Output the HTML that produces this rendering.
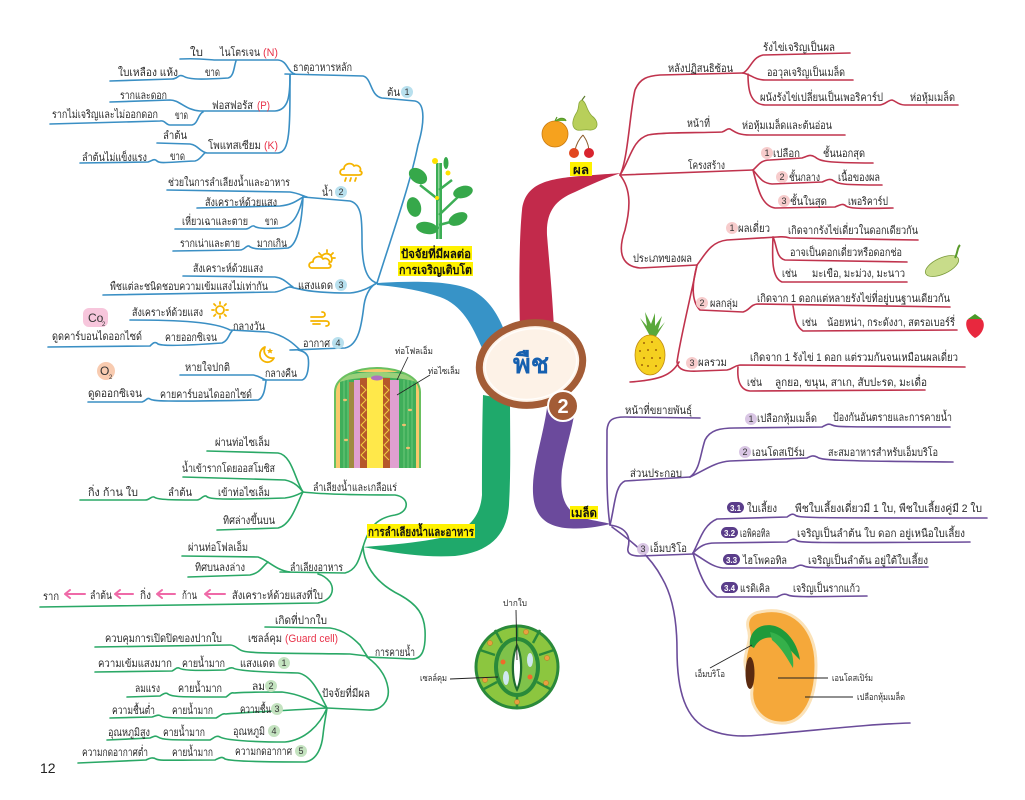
<!DOCTYPE html>
<html><head><meta charset="utf-8"><style>
html,body{margin:0;padding:0;background:#fff;}
svg{display:block;}
.t{font-family:"Liberation Sans","DejaVu Sans",sans-serif;font-size:11px;fill:#2a2a2a;}
.s{font-size:9px;}
.r{fill:#e8334a;}
.b{font-weight:bold;fill:#111;font-size:12px;}
.bl{fill:none;stroke:#3a8fc4;stroke-width:1.6;stroke-linecap:round;}
.gl{fill:none;stroke:#2aa866;stroke-width:1.6;stroke-linecap:round;}
.rl{fill:none;stroke:#c0334d;stroke-width:1.6;stroke-linecap:round;}
.pl{fill:none;stroke:#6b4c9a;stroke-width:1.6;stroke-linecap:round;}
.bn{font-family:"Liberation Sans",sans-serif;font-size:9px;fill:#333;text-anchor:middle;}
.wn{font-family:"Liberation Sans",sans-serif;font-size:8px;fill:#fff;text-anchor:middle;font-weight:bold;}
.ic{fill:none;stroke:#f5b400;stroke-width:1.8;stroke-linecap:round;stroke-linejoin:round;}
</style></head><body>
<svg width="1025" height="800" viewBox="0 0 1025 800" xmlns="http://www.w3.org/2000/svg">
<rect width="1025" height="800" fill="#fff"/>

<!-- thick branches -->
<path d="M377,283 C410,281 450,280 472,290 C490,300 498,315 505,332 L482,348 C472,325 462,305 440,297 C420,290 400,287 377,285 Z" fill="#3793c7"/>
<path d="M520,330 C519,290 519,240 522,210 C525,185 545,180 570,177 C590,175 610,174 621,173 C605,178 590,185 575,192 C555,200 546,212 547,235 C549,260 552,290 554,328 Z" fill="#c22a4b"/>
<path d="M483,395 C482,430 482,470 482,495 C480,520 465,532 440,538 C415,543 390,545 363,547 C390,552 420,558 455,556 C490,552 507,535 509,505 C511,470 510,430 510,400 Z" fill="#1fa96b"/>
<path d="M548,400 C545,430 534,460 533,485 C532,510 540,525 565,528 C585,530 600,526 611,524 C595,520 585,520 575,514 C562,505 560,490 562,470 C565,450 572,430 575,410 Z" fill="#6b4a9c"/>

<!-- BLUE lines -->
<path class="bl" d="M285,74 L363,76 C372,78 370,96 382,98 L415,101 C426,103 424,125 418,145 C410,185 392,235 377,283"/>
<path class="bl" d="M180,59 C200,58 210,60 215,60 L278,60 C288,61 287,72 295,74"/>
<path class="bl" d="M110,81 L172,79 C178,79 178,74 183,76 C188,79 195,80 228,78 C234,77 234,66 236,61"/>
<path class="bl" d="M110,102 L170,100 C180,100 185,110 200,111 L275,111 C289,110 290,95 290,75"/>
<path class="bl" d="M50,124 L160,121 C165,120 166,125 170,125 L192,125 C198,124 198,114 203,112"/>
<path class="bl" d="M157,143 L190,144 C198,145 200,152 207,153 L278,153 C290,152 290,130 290,75"/>
<path class="bl" d="M80,163 L148,162 C152,161 154,158 157,161 C160,164 170,162 195,161 C200,160 202,155 205,153"/>
<path class="bl" d="M167,190 L290,192 C298,193 303,196 307,197"/>
<path class="bl" d="M303,197 L350,201 C362,204 362,220 362,240 C362,265 366,280 377,283"/>
<path class="bl" d="M197,208 L280,206 C292,205 298,200 303,197"/>
<path class="bl" d="M175,229 L246,229 C250,229 251,225 254,226 C257,228 262,229 280,228 C295,226 300,210 303,197"/>
<path class="bl" d="M173,251 L240,250 C245,250 246,245 249,246 C252,249 258,250 288,248 C298,245 302,220 303,197"/>
<path class="bl" d="M183,276 L275,277 C284,278 288,284 293,287"/>
<path class="bl" d="M103,295 L275,292 C283,291 286,287 290,287"/>
<path class="bl" d="M290,287 C300,289 310,293 350,293 C362,292 370,287 377,283"/>
<path class="bl" d="M130,320 C180,320 215,322 230,330 L268,332 C285,335 295,345 300,350"/>
<path class="bl" d="M48,347 L150,346 C153,343 155,341 158,344 C162,346 180,346 222,343 C228,341 229,334 232,331"/>
<path class="bl" d="M290,350 C300,350 310,349 345,348 C360,345 362,320 364,305 C366,292 372,285 377,283"/>
<path class="bl" d="M180,375 L253,375 C260,376 262,379 266,380"/>
<path class="bl" d="M263,380 L302,380 C309,378 309,362 308,357 C306,352 302,351 298,350"/>
<path class="bl" d="M88,402 L142,402 C146,401 147,397 150,399 C153,401 160,402 258,400 C264,398 265,388 266,381"/>

<!-- GREEN lines -->
<path class="gl" d="M207,451 L278,453 C292,455 295,480 303,492"/>
<path class="gl" d="M183,477 L285,480 C295,482 300,488 303,492"/>
<path class="gl" d="M80,500 L145,500 C150,500 151,496 154,497 C157,499 160,500 197,500 C201,500 203,495 206,496 C209,499 215,500 285,498 C294,497 299,494 303,492"/>
<path class="gl" d="M217,530 L278,528 C292,525 298,500 303,492"/>
<path class="gl" d="M303,492 C320,494 360,495 395,495 C410,497 410,512 395,515 C375,518 368,530 363,547"/>
<path class="gl" d="M182,556 L258,557 C268,560 275,570 290,572"/>
<path class="gl" d="M188,577 L250,575 C260,573 262,567 268,562"/>
<path class="gl" d="M280,572 L345,573 C358,570 360,555 363,547"/>
<path class="gl" d="M40,607 L318,603 C332,600 335,590 330,582 C326,577 322,575 318,574"/>
<path class="gl" d="M363,547 C365,570 380,585 400,595 C418,605 424,615 425,630 C426,650 422,659 412,659 L367,657"/>
<path class="gl" d="M265,627 L330,628 C345,630 355,640 360,645 C363,650 365,653 367,656"/>
<path class="gl" d="M95,647 L230,645 C236,645 238,650 243,651 C250,653 260,653 350,654 L367,656"/>
<path class="gl" d="M327,708 L368,710 C382,711 390,700 388,688 C386,675 378,665 367,657"/>
<path class="gl" d="M95,672 L172,671 C175,670 176,667 179,668 C182,670 190,671 225,670 C228,669 230,667 233,668 C236,670 250,672 298,673 C312,675 320,695 327,708"/>
<path class="gl" d="M127,697 L160,696 C163,694 166,692 168,694 C172,697 180,697 226,697 C229,695 231,692 234,693 C240,692 260,692 282,692 C300,694 315,702 327,708"/>
<path class="gl" d="M110,718 L152,717 C156,716 158,714 161,716 C164,718 170,718 216,718 C220,716 222,713 226,714 C232,713 260,712 327,708"/>
<path class="gl" d="M107,740 L150,738 C153,737 155,735 158,737 C162,740 170,740 210,740 C214,738 216,735 220,737 C225,740 250,742 285,742 C305,740 320,725 327,708"/>
<path class="gl" d="M78,763 L146,760 C150,758 153,757 156,759 C160,761 170,760 215,760 C219,758 222,756 225,759 C230,761 260,762 305,762 C318,760 322,745 323,735 C324,725 326,715 327,708"/>

<!-- RED lines -->
<path class="rl" d="M620,175 C628,160 630,110 635,90 C640,78 648,76 660,75 L743,73"/>
<path class="rl" d="M743,73 C750,70 752,57 763,55 L850,53"/>
<path class="rl" d="M743,73 C752,75 755,80 765,80 L853,80"/>
<path class="rl" d="M748,74 C748,90 750,104 765,105 L880,105 C886,104 888,100 892,100 C896,101 898,105 905,105 L958,105"/>
<path class="rl" d="M620,175 C630,160 632,140 648,135 C660,132 700,133 722,132 C726,131 727,128 730,129 C734,131 737,135 750,135 L845,135"/>
<path class="rl" d="M620,175 L753,170"/>
<path class="rl" d="M753,170 C758,166 760,160 770,160 L802,158 C808,156 810,154 815,157 C820,161 825,163 873,163"/>
<path class="rl" d="M753,170 C760,178 762,183 772,184 L822,182 C827,180 830,178 834,181 C838,184 842,185 882,185"/>
<path class="rl" d="M753,170 C758,190 762,206 775,208 L835,207 C840,205 843,203 846,206 C849,208 855,209 893,208"/>
<path class="rl" d="M620,175 C632,190 630,210 625,230 C618,250 620,266 640,268 L697,265"/>
<path class="rl" d="M697,265 C705,255 710,242 727,240 L777,237 C782,237 783,236 790,238 L918,240"/>
<path class="rl" d="M773,237 C777,245 776,258 785,260 L907,262"/>
<path class="rl" d="M773,237 C772,260 772,278 782,282 L907,282"/>
<path class="rl" d="M697,265 C693,280 690,300 700,310 L743,312 C750,310 750,305 757,304 L950,307"/>
<path class="rl" d="M793,306 C795,315 794,325 803,331 L957,330"/>
<path class="rl" d="M697,265 C690,300 680,340 677,362 C678,370 685,372 700,371 L727,370 C733,369 733,366 740,365 L965,367"/>
<path class="rl" d="M738,367 C737,380 740,390 750,391 L925,390"/>
<path class="rl" d="M679,362 C672,375 660,380 630,382"/>

<!-- PURPLE lines -->
<path class="pl" d="M610,525 C606,500 607,460 607,430 C608,420 612,417 625,417 L700,418"/>
<path class="pl" d="M610,525 C615,505 615,485 625,481 L690,477"/>
<path class="pl" d="M690,477 C700,470 700,455 705,440 C710,430 720,428 735,428 L822,427 C826,425 828,423 832,425 C836,427 840,427 950,427"/>
<path class="pl" d="M690,477 C705,470 715,462 730,461 L807,458 C811,456 813,455 817,457 C821,460 830,461 953,462"/>
<path class="pl" d="M610,525 C630,528 630,540 628,548 C627,553 630,556 640,556 L693,554"/>
<path class="pl" d="M612,527 C630,540 650,555 662,578 C672,595 677,620 677,650 C677,690 685,720 710,730 C725,736 740,737 760,735 C820,730 870,724 910,723"/>
<path class="pl" d="M693,553 C700,540 703,525 717,519 L787,517 C790,515 792,513 795,515 C798,518 805,518 987,518"/>
<path class="pl" d="M693,553 C700,546 705,543 715,543 L787,542 C791,540 793,538 796,540 C799,543 805,543 970,542"/>
<path class="pl" d="M693,553 C705,560 712,567 723,568 L793,568 C798,566 800,564 804,566 C808,568 815,568 928,567"/>
<path class="pl" d="M693,553 C698,570 705,590 717,597 L777,597 C781,595 784,593 788,595 C792,597 800,597 867,596"/>

<!-- central ellipse -->
<ellipse cx="531" cy="364" rx="52" ry="41" transform="rotate(-10 531 364)" fill="#fdf2e7" stroke="#a35c36" stroke-width="7"/>
<ellipse cx="531" cy="364" rx="46" ry="35" transform="rotate(-10 531 364)" fill="none" stroke="#fff" stroke-width="1.5" opacity="0.8"/>
<text x="531" y="373" text-anchor="middle" style="font-family:'Liberation Sans',sans-serif;font-size:27px;font-weight:bold;fill:#1560b0">พืช</text>
<circle cx="563" cy="406" r="15" fill="#a35c36" stroke="#fff" stroke-width="2"/>
<text x="563" y="413" text-anchor="middle" style="font-family:'Liberation Sans',sans-serif;font-size:20px;font-weight:bold;fill:#fff">2</text>

<!-- highlight labels -->
<rect x="570" y="162" width="22" height="14" fill="#fff200"/>
<text class="t b" x="573" y="174" textLength="16" lengthAdjust="spacingAndGlyphs">ผล</text>
<rect x="400" y="246" width="72" height="14" fill="#fff200"/>
<text class="t b" x="401" y="258" textLength="70" lengthAdjust="spacingAndGlyphs">ปัจจัยที่มีผลต่อ</text>
<rect x="398" y="262" width="75" height="14" fill="#fff200"/>
<text class="t b" x="399" y="274" textLength="73" lengthAdjust="spacingAndGlyphs">การเจริญเติบโต</text>
<rect x="367" y="524" width="108" height="14" fill="#fff200"/>
<text class="t b" x="368" y="536" textLength="106" lengthAdjust="spacingAndGlyphs">การลำเลียงน้ำและอาหาร</text>
<rect x="570" y="506" width="28" height="13" fill="#fff200"/>
<text class="t b" x="571" y="517" textLength="26" lengthAdjust="spacingAndGlyphs">เมล็ด</text>

<!-- BLUE texts -->
<g class="t">
<text x="190" y="56" textLength="13" lengthAdjust="spacingAndGlyphs">ใบ</text>
<text x="220" y="56" textLength="40" lengthAdjust="spacingAndGlyphs">ไนโตรเจน</text>
<text class="t r" x="263" y="56" textLength="15" lengthAdjust="spacingAndGlyphs">(N)</text>
<text x="293" y="71" textLength="59" lengthAdjust="spacingAndGlyphs">ธาตุอาหารหลัก</text>
<text x="387" y="96" textLength="13" lengthAdjust="spacingAndGlyphs">ต้น</text>
<text x="118" y="76" textLength="60" lengthAdjust="spacingAndGlyphs">ใบเหลือง แห้ง</text>
<text x="205" y="76" textLength="15" lengthAdjust="spacingAndGlyphs">ขาด</text>
<text x="120" y="99" textLength="47" lengthAdjust="spacingAndGlyphs">รากและดอก</text>
<text x="212" y="109" textLength="41" lengthAdjust="spacingAndGlyphs">ฟอสฟอรัส</text>
<text class="t r" x="257" y="109" textLength="13" lengthAdjust="spacingAndGlyphs">(P)</text>
<text x="52" y="118" textLength="106" lengthAdjust="spacingAndGlyphs">รากไม่เจริญและไม่ออกดอก</text>
<text x="175" y="119" textLength="13" lengthAdjust="spacingAndGlyphs">ขาด</text>
<text x="163" y="139" textLength="24" lengthAdjust="spacingAndGlyphs">ลำต้น</text>
<text x="208" y="149" textLength="53" lengthAdjust="spacingAndGlyphs">โพแทสเซียม</text>
<text class="t r" x="264" y="149" textLength="14" lengthAdjust="spacingAndGlyphs">(K)</text>
<text x="82" y="161" textLength="65" lengthAdjust="spacingAndGlyphs">ลำต้นไม่แข็งแรง</text>
<text x="170" y="160" textLength="15" lengthAdjust="spacingAndGlyphs">ขาด</text>
<text x="168" y="186" textLength="122" lengthAdjust="spacingAndGlyphs">ช่วยในการลำเลียงน้ำและอาหาร</text>
<text x="322" y="196" textLength="11" lengthAdjust="spacingAndGlyphs">น้ำ</text>
<text x="205" y="206" textLength="72" lengthAdjust="spacingAndGlyphs">สังเคราะห์ด้วยแสง</text>
<text x="182" y="225" textLength="66" lengthAdjust="spacingAndGlyphs">เหี่ยวเฉาและตาย</text>
<text x="265" y="225" textLength="13" lengthAdjust="spacingAndGlyphs">ขาด</text>
<text x="180" y="247" textLength="60" lengthAdjust="spacingAndGlyphs">รากเน่าและตาย</text>
<text x="257" y="247" textLength="30" lengthAdjust="spacingAndGlyphs">มากเกิน</text>
<text x="193" y="272" textLength="70" lengthAdjust="spacingAndGlyphs">สังเคราะห์ด้วยแสง</text>
<text x="110" y="290" textLength="158" lengthAdjust="spacingAndGlyphs">พืชแต่ละชนิดชอบความเข้มแสงไม่เท่ากัน</text>
<text x="298" y="289" textLength="35" lengthAdjust="spacingAndGlyphs">แสงแดด</text>
<text x="132" y="316" textLength="71" lengthAdjust="spacingAndGlyphs">สังเคราะห์ด้วยแสง</text>
<text x="233" y="330" textLength="32" lengthAdjust="spacingAndGlyphs">กลางวัน</text>
<text x="165" y="341" textLength="52" lengthAdjust="spacingAndGlyphs">คายออกซิเจน</text>
<text x="52" y="340" textLength="90" lengthAdjust="spacingAndGlyphs">ดูดคาร์บอนไดออกไซด์</text>
<text x="303" y="347" textLength="27" lengthAdjust="spacingAndGlyphs">อากาศ</text>
<text x="185" y="371" textLength="45" lengthAdjust="spacingAndGlyphs">หายใจปกติ</text>
<text x="265" y="377" textLength="32" lengthAdjust="spacingAndGlyphs">กลางคืน</text>
<text x="88" y="397" textLength="54" lengthAdjust="spacingAndGlyphs">ดูดออกซิเจน</text>
<text x="160" y="398" textLength="92" lengthAdjust="spacingAndGlyphs">คายคาร์บอนไดออกไซด์</text>
</g>
<!-- blue badges -->
<g>
<circle cx="407" cy="92" r="6" fill="#b8e0ee"/><text class="bn" x="407" y="95">1</text>
<circle cx="341" cy="192" r="6" fill="#b8e0ee"/><text class="bn" x="341" y="195">2</text>
<circle cx="341" cy="285" r="6" fill="#b8e0ee"/><text class="bn" x="341" y="288">3</text>
<circle cx="338" cy="343" r="6" fill="#b8e0ee"/><text class="bn" x="338" y="346">4</text>
</g>
<!-- Co2 / O2 -->
<rect x="83" y="308" width="25" height="19" rx="6" fill="#f7c6dc"/>
<text x="88" y="322" style="font-family:'Liberation Sans',sans-serif;font-size:12px;fill:#333">Co</text>
<text x="102" y="326" style="font-family:'Liberation Sans',sans-serif;font-size:6px;fill:#333">2</text>
<ellipse cx="106" cy="371" rx="9" ry="9" fill="#f8cbb0"/>
<text x="100" y="375" style="font-family:'Liberation Sans',sans-serif;font-size:12px;fill:#333">O</text>
<text x="109" y="379" style="font-family:'Liberation Sans',sans-serif;font-size:6px;fill:#333">2</text>

<!-- weather icons -->
<path class="ic" d="M343,175 C339,175 339,169 344,169 C344,163 352,162 354,166 C358,164 362,168 360,171 C363,172 362,175 359,175 Z"/>
<path class="ic" d="M346,178 L345,181 M351,178 L350,181 M356,178 L355,181" stroke-width="1.3"/>
<path class="ic" d="M312,268 C308,268 308,262 313,262 C313,256 321,255 323,259 C327,257 331,261 329,264 C332,265 331,268 328,268 Z"/>
<path class="ic" d="M322,256 A5,5 0 0 1 331,262 M327,250 L327,252 M333,253 L331,255 M335,258 L333,258 M319,253 L321,255" stroke-width="1.3"/>
<circle class="ic" cx="220" cy="310" r="4"/>
<path class="ic" d="M220,302 L220,304 M220,316 L220,318 M212,310 L214,310 M226,310 L228,310 M214,304 L215.5,305.5 M224.5,314.5 L226,316 M226,304 L224.5,305.5 M214,316 L215.5,314.5" stroke-width="1.3"/>
<path class="ic" d="M311,317 L322,317 C326,317 326,312 322,312 M311,321 L326,321 C330,321 330,326 326,326 M313,324 L320,324"/>
<path class="ic" d="M265,347 C258,350 258,360 266,362 C270,363 273,360 274,358 C268,359 262,354 265,347 Z" fill="#f5b400"/>
<path d="M270,348 l1,2 2,0 -1.5,1.5 .5,2 -2,-1 -2,1 .5,-2 -1.5,-1.5 2,0 Z" fill="#f5b400"/>

<!-- GREEN texts -->
<g class="t">
<text x="215" y="446" textLength="55" lengthAdjust="spacingAndGlyphs">ผ่านท่อไซเล็ม</text>
<text x="182" y="472" textLength="93" lengthAdjust="spacingAndGlyphs">น้ำเข้ารากโดยออสโมซิส</text>
<text x="88" y="496" textLength="50" lengthAdjust="spacingAndGlyphs">กิ่ง ก้าน ใบ</text>
<text x="168" y="496" textLength="24" lengthAdjust="spacingAndGlyphs">ลำต้น</text>
<text x="218" y="496" textLength="52" lengthAdjust="spacingAndGlyphs">เข้าท่อไซเล็ม</text>
<text x="223" y="524" textLength="52" lengthAdjust="spacingAndGlyphs">ทิศล่างขึ้นบน</text>
<text x="313" y="491" textLength="84" lengthAdjust="spacingAndGlyphs">ลำเลียงน้ำและเกลือแร่</text>
<text x="188" y="551" textLength="60" lengthAdjust="spacingAndGlyphs">ผ่านท่อโฟลเอ็ม</text>
<text x="195" y="571" textLength="50" lengthAdjust="spacingAndGlyphs">ทิศบนลงล่าง</text>
<text x="290" y="571" textLength="53" lengthAdjust="spacingAndGlyphs">ลำเลียงอาหาร</text>
<text x="43" y="600" textLength="16" lengthAdjust="spacingAndGlyphs">ราก</text>
<text x="90" y="599" textLength="22" lengthAdjust="spacingAndGlyphs">ลำต้น</text>
<text x="140" y="599" textLength="11" lengthAdjust="spacingAndGlyphs">กิ่ง</text>
<text x="182" y="599" textLength="15" lengthAdjust="spacingAndGlyphs">ก้าน</text>
<text x="232" y="599" textLength="91" lengthAdjust="spacingAndGlyphs">สังเคราะห์ด้วยแสงที่ใบ</text>
<text x="275" y="624" textLength="52" lengthAdjust="spacingAndGlyphs">เกิดที่ปากใบ</text>
<text x="105" y="642" textLength="117" lengthAdjust="spacingAndGlyphs">ควบคุมการเปิดปิดของปากใบ</text>
<text x="248" y="642" textLength="34" lengthAdjust="spacingAndGlyphs">เซลล์คุม</text>
<text class="t r" x="285" y="642" textLength="53" lengthAdjust="spacingAndGlyphs">(Guard cell)</text>
<text x="375" y="656" textLength="40" lengthAdjust="spacingAndGlyphs">การคายน้ำ</text>
<text x="98" y="667" textLength="74" lengthAdjust="spacingAndGlyphs">ความเข้มแสงมาก</text>
<text x="182" y="667" textLength="43" lengthAdjust="spacingAndGlyphs">คายน้ำมาก</text>
<text x="240" y="667" textLength="35" lengthAdjust="spacingAndGlyphs">แสงแดด</text>
<text x="135" y="692" textLength="25" lengthAdjust="spacingAndGlyphs">ลมแรง</text>
<text x="178" y="692" textLength="44" lengthAdjust="spacingAndGlyphs">คายน้ำมาก</text>
<text x="252" y="690" textLength="13" lengthAdjust="spacingAndGlyphs">ลม</text>
<text x="112" y="714" textLength="43" lengthAdjust="spacingAndGlyphs">ความชื้นต่ำ</text>
<text x="172" y="714" textLength="41" lengthAdjust="spacingAndGlyphs">คายน้ำมาก</text>
<text x="240" y="713" textLength="31" lengthAdjust="spacingAndGlyphs">ความชื้น</text>
<text x="108" y="736" textLength="42" lengthAdjust="spacingAndGlyphs">อุณหภูมิสูง</text>
<text x="163" y="736" textLength="42" lengthAdjust="spacingAndGlyphs">คายน้ำมาก</text>
<text x="233" y="735" textLength="32" lengthAdjust="spacingAndGlyphs">อุณหภูมิ</text>
<text x="82" y="756" textLength="66" lengthAdjust="spacingAndGlyphs">ความกดอากาศต่ำ</text>
<text x="172" y="756" textLength="41" lengthAdjust="spacingAndGlyphs">คายน้ำมาก</text>
<text x="235" y="755" textLength="57" lengthAdjust="spacingAndGlyphs">ความกดอากาศ</text>
<text x="322" y="697" textLength="48" lengthAdjust="spacingAndGlyphs">ปัจจัยที่มีผล</text>
</g>
<g>
<circle cx="284" cy="663" r="6" fill="#c4e3c0"/><text class="bn" x="284" y="666">1</text>
<circle cx="271" cy="686" r="6" fill="#c4e3c0"/><text class="bn" x="271" y="689">2</text>
<circle cx="277" cy="709" r="6" fill="#c4e3c0"/><text class="bn" x="277" y="712">3</text>
<circle cx="274" cy="731" r="6" fill="#c4e3c0"/><text class="bn" x="274" y="734">4</text>
<circle cx="301" cy="751" r="6" fill="#c4e3c0"/><text class="bn" x="301" y="754">5</text>
</g>
<!-- pink arrows -->
<g stroke="#ef6aa8" stroke-width="2" fill="none" stroke-linecap="round">
<path d="M65,594 L85,594 M65,594 L70,590 M65,594 L70,598"/>
<path d="M115,594 L133,594 M115,594 L120,590 M115,594 L120,598"/>
<path d="M157,594 L175,594 M157,594 L162,590 M157,594 L162,598"/>
<path d="M205,594 L225,594 M205,594 L210,590 M205,594 L210,598"/>
</g>
<text x="40" y="773" style="font-family:'Liberation Sans',sans-serif;font-size:14px;fill:#222">12</text>

<!-- RED texts -->
<g class="t">
<text x="668" y="72" textLength="65" lengthAdjust="spacingAndGlyphs">หลังปฏิสนธิซ้อน</text>
<text x="763" y="51" textLength="72" lengthAdjust="spacingAndGlyphs">รังไข่เจริญเป็นผล</text>
<text x="767" y="76" textLength="78" lengthAdjust="spacingAndGlyphs">ออวุลเจริญเป็นเมล็ด</text>
<text x="760" y="101" textLength="123" lengthAdjust="spacingAndGlyphs">ผนังรังไข่เปลี่ยนเป็นเพอริคาร์ป</text>
<text x="910" y="101" textLength="45" lengthAdjust="spacingAndGlyphs">ห่อหุ้มเมล็ด</text>
<text x="687" y="127" textLength="23" lengthAdjust="spacingAndGlyphs">หน้าที่</text>
<text x="742" y="129" textLength="90" lengthAdjust="spacingAndGlyphs">ห่อหุ้มเมล็ดและต้นอ่อน</text>
<text x="688" y="169" textLength="37" lengthAdjust="spacingAndGlyphs">โครงสร้าง</text>
<text x="773" y="157" textLength="27" lengthAdjust="spacingAndGlyphs">เปลือก</text>
<text x="823" y="157" textLength="42" lengthAdjust="spacingAndGlyphs">ชั้นนอกสุด</text>
<text x="789" y="181" textLength="31" lengthAdjust="spacingAndGlyphs">ชั้นกลาง</text>
<text x="838" y="181" textLength="42" lengthAdjust="spacingAndGlyphs">เนื้อของผล</text>
<text x="790" y="205" textLength="37" lengthAdjust="spacingAndGlyphs">ชั้นในสุด</text>
<text x="848" y="205" textLength="40" lengthAdjust="spacingAndGlyphs">เพอริคาร์ป</text>
<text x="633" y="262" textLength="59" lengthAdjust="spacingAndGlyphs">ประเภทของผล</text>
<text x="738" y="232" textLength="32" lengthAdjust="spacingAndGlyphs">ผลเดี่ยว</text>
<text x="788" y="234" textLength="130" lengthAdjust="spacingAndGlyphs">เกิดจากรังไข่เดี่ยวในดอกเดียวกัน</text>
<text x="790" y="256" textLength="112" lengthAdjust="spacingAndGlyphs">อาจเป็นดอกเดี่ยวหรือดอกช่อ</text>
<text x="782" y="277" textLength="15" lengthAdjust="spacingAndGlyphs">เช่น</text>
<text x="812" y="277" textLength="93" lengthAdjust="spacingAndGlyphs">มะเขือ, มะม่วง, มะนาว</text>
<text x="710" y="307" textLength="28" lengthAdjust="spacingAndGlyphs">ผลกลุ่ม</text>
<text x="757" y="302" textLength="193" lengthAdjust="spacingAndGlyphs">เกิดจาก 1 ดอกแต่หลายรังไข่ที่อยู่บนฐานเดียวกัน</text>
<text x="802" y="326" textLength="15" lengthAdjust="spacingAndGlyphs">เช่น</text>
<text x="827" y="326" textLength="128" lengthAdjust="spacingAndGlyphs">น้อยหน่า, กระดังงา, สตรอเบอร์รี่</text>
<text x="698" y="366" textLength="29" lengthAdjust="spacingAndGlyphs">ผลรวม</text>
<text x="750" y="361" textLength="208" lengthAdjust="spacingAndGlyphs">เกิดจาก 1 รังไข่ 1 ดอก แต่รวมกันจนเหมือนผลเดี่ยว</text>
<text x="747" y="386" textLength="15" lengthAdjust="spacingAndGlyphs">เช่น</text>
<text x="775" y="386" textLength="152" lengthAdjust="spacingAndGlyphs">ลูกยอ, ขนุน, สาเก, สับปะรด, มะเดื่อ</text>
</g>
<g>
<circle cx="767" cy="153" r="6" fill="#f7cccc"/><text class="bn" x="767" y="156">1</text>
<circle cx="782" cy="177" r="6" fill="#f7cccc"/><text class="bn" x="782" y="180">2</text>
<circle cx="784" cy="201" r="6" fill="#f7cccc"/><text class="bn" x="784" y="204">3</text>
<circle cx="732" cy="228" r="6" fill="#f7cccc"/><text class="bn" x="732" y="231">1</text>
<circle cx="702" cy="303" r="6" fill="#f7cccc"/><text class="bn" x="702" y="306">2</text>
<circle cx="692" cy="363" r="6" fill="#f7cccc"/><text class="bn" x="692" y="366">3</text>
</g>

<!-- PURPLE texts -->
<g class="t">
<text x="625" y="414" textLength="67" lengthAdjust="spacingAndGlyphs">หน้าที่ขยายพันธุ์</text>
<text x="757" y="422" textLength="60" lengthAdjust="spacingAndGlyphs">เปลือกหุ้มเมล็ด</text>
<text x="833" y="421" textLength="119" lengthAdjust="spacingAndGlyphs">ป้องกันอันตรายและการคายน้ำ</text>
<text x="752" y="456" textLength="53" lengthAdjust="spacingAndGlyphs">เอนโดสเปิร์ม</text>
<text x="828" y="456" textLength="110" lengthAdjust="spacingAndGlyphs">สะสมอาหารสำหรับเอ็มบริโอ</text>
<text x="630" y="477" textLength="52" lengthAdjust="spacingAndGlyphs">ส่วนประกอบ</text>
<text x="650" y="552" textLength="37" lengthAdjust="spacingAndGlyphs">เอ็มบริโอ</text>
<text x="747" y="512" textLength="30" lengthAdjust="spacingAndGlyphs">ใบเลี้ยง</text>
<text x="795" y="512" textLength="187" lengthAdjust="spacingAndGlyphs">พืชใบเลี้ยงเดี่ยวมี 1 ใบ, พืชใบเลี้ยงคู่มี 2 ใบ</text>
<text x="740" y="537" textLength="30" lengthAdjust="spacingAndGlyphs">เอพิคอทิล</text>
<text x="797" y="537" textLength="168" lengthAdjust="spacingAndGlyphs">เจริญเป็นลำต้น ใบ ดอก อยู่เหนือใบเลี้ยง</text>
<text x="743" y="564" textLength="44" lengthAdjust="spacingAndGlyphs">ไฮโพคอทิล</text>
<text x="808" y="564" textLength="120" lengthAdjust="spacingAndGlyphs">เจริญเป็นลำต้น อยู่ใต้ใบเลี้ยง</text>
<text x="740" y="592" textLength="30" lengthAdjust="spacingAndGlyphs">แรดิเคิล</text>
<text x="793" y="592" textLength="67" lengthAdjust="spacingAndGlyphs">เจริญเป็นรากแก้ว</text>
</g>
<g>
<circle cx="751" cy="419" r="6" fill="#d9c6e4"/><text class="bn" x="751" y="422">1</text>
<circle cx="745" cy="452" r="6" fill="#d9c6e4"/><text class="bn" x="745" y="455">2</text>
<circle cx="643" cy="549" r="6" fill="#d9c6e4"/><text class="bn" x="643" y="552">3</text>
<rect x="727" y="502" width="17" height="11" rx="5.5" fill="#5a3d8a"/><text class="wn" x="735.5" y="511">3.1</text>
<rect x="721" y="527" width="17" height="11" rx="5.5" fill="#5a3d8a"/><text class="wn" x="729.5" y="536">3.2</text>
<rect x="723" y="554" width="17" height="11" rx="5.5" fill="#5a3d8a"/><text class="wn" x="731.5" y="563">3.3</text>
<rect x="721" y="582" width="17" height="11" rx="5.5" fill="#5a3d8a"/><text class="wn" x="729.5" y="591">3.4</text>
</g>

<!-- PLANT -->
<g>
<rect x="436" y="163" width="6" height="76" fill="#3cae55"/>
<rect x="438" y="163" width="1.5" height="76" fill="#8fd49a"/>
<path d="M439,200 L420,185 M439,215 L460,195 M439,190 L452,180 M439,225 L458,220 M439,228 L425,225" stroke="#3cae55" stroke-width="2.5"/>
<ellipse cx="418" cy="176" rx="10" ry="7" transform="rotate(35 418 176)" fill="#36a84a"/>
<ellipse cx="414" cy="207" rx="7" ry="10" transform="rotate(-15 414 207)" fill="#36a84a"/>
<ellipse cx="427" cy="228" rx="11" ry="6" transform="rotate(10 427 228)" fill="#36a84a"/>
<ellipse cx="463" cy="192" rx="10" ry="6" transform="rotate(-15 463 192)" fill="#36a84a"/>
<ellipse cx="458" cy="219" rx="10" ry="6" transform="rotate(-25 458 219)" fill="#36a84a"/>
<ellipse cx="446" cy="163" rx="2.5" ry="6" fill="#36a84a"/>
<circle cx="435" cy="161" r="3" fill="#ffe100"/>
<circle cx="448" cy="173" r="2.5" fill="#ffe100"/>
<circle cx="437" cy="198" r="2" fill="#ffe100"/>
</g>

<!-- FRUITS -->
<g>
<circle cx="555" cy="134" r="13" fill="#f6a21e" stroke="#c97a10" stroke-width="0.8"/>
<path d="M555,121 L557,117 M556,121 C560,117 565,118 566,121" stroke="#5a9a2a" stroke-width="1.2" fill="#6ab030"/>
<path d="M582,100 C587,103 586,110 592,116 C600,122 598,131 589,130 C585,129 581,131 577,130 C570,127 573,118 577,112 C580,106 577,102 582,100 Z" fill="#b8cf5a" stroke="#8aa83a" stroke-width="0.8"/>
<path d="M582,100 L585,96" stroke="#5a7a2a" stroke-width="1.2"/>
<path d="M575,150 C577,142 580,138 583,135 M589,150 C588,142 585,138 583,135" stroke="#8a5a2a" stroke-width="1" fill="none"/>
<circle cx="574" cy="153" r="5" fill="#e2461e"/>
<circle cx="589" cy="153" r="5" fill="#d8242e"/>
</g>
<!-- pineapple -->
<g>
<path d="M650,336 L640,318 L647,326 L645,312 L651,324 L655,313 L655,326 L662,316 L658,330 L665,322 L655,338 Z" fill="#5aa83a"/>
<ellipse cx="650" cy="355" rx="15" ry="20" fill="#f5d020" stroke="#c08a10" stroke-width="0.8"/>
<g fill="#a0620a">
<circle cx="644" cy="343" r="1"/><circle cx="652" cy="342" r="1"/><circle cx="648" cy="350" r="1"/><circle cx="656" cy="350" r="1"/><circle cx="640" cy="351" r="1"/><circle cx="644" cy="358" r="1"/><circle cx="652" cy="358" r="1"/><circle cx="660" cy="358" r="1"/><circle cx="648" cy="366" r="1"/><circle cx="656" cy="366" r="1"/><circle cx="642" cy="365" r="1"/></g>
</g>
<!-- cucumber -->
<ellipse cx="942" cy="266" rx="18" ry="8" transform="rotate(-25 942 266)" fill="#c8dc8a" stroke="#7a9a3a" stroke-width="0.8"/>
<path d="M955,258 C958,252 957,248 960,245" stroke="#5a9a2a" stroke-width="2" fill="none"/>
<!-- strawberry -->
<path d="M967,320 C972,316 980,316 983,321 C986,328 980,336 975,338 C970,335 964,327 967,320 Z" fill="#e8283e"/>
<path d="M968,319 L975,314 L982,319 Z" fill="#4a9a2a"/>

<!-- XYLEM diagram -->
<defs><clipPath id="xc"><path d="M335,468 L335,392 C335,375 360,368 377,368 C395,368 420,375 420,392 L420,468 Z"/></clipPath></defs>
<g clip-path="url(#xc)">
<rect x="335" y="365" width="86" height="105" fill="#f7c96b"/>
<rect x="340" y="372" width="76" height="98" fill="#3fae5a"/>
<path d="M344,380 L344,468 M348,380 L348,468 M404,380 L404,468 M408,380 L408,468 M412,380 L412,468" stroke="#6cc878" stroke-width="1"/>
<rect x="349" y="382" width="5" height="88" fill="#a08a40"/>
<rect x="354" y="380" width="6" height="90" fill="#e0a0d0"/>
<rect x="360" y="378" width="7" height="92" fill="#b5582a"/>
<rect x="367" y="377" width="16" height="93" fill="#ffe84a"/>
<rect x="383" y="378" width="7" height="92" fill="#b5582a"/>
<rect x="390" y="380" width="9" height="90" fill="#e0a0d0"/>
<path d="M361,385 L366,390 L361,395 L366,400 L361,405 L366,410 L361,415 L366,420 L361,425 L366,430 L361,435 L366,440 L361,445 L366,450 L361,455 L366,460 M384,385 L389,390 L384,395 L389,400 L384,405 L389,410 L384,415 L389,420 L384,425 L389,430 L384,435 L389,440 L384,445 L389,450 L384,455 L389,460" stroke="#f0d040" stroke-width="1" fill="none"/>
<path d="M340,378 C355,370 400,370 416,378 L416,382 C400,376 355,376 340,382 Z" fill="#9ad07a"/>
<ellipse cx="377" cy="378" rx="6" ry="2.5" fill="#b070c0"/>
<g fill="#f2c070"><ellipse cx="345" cy="400" rx="2" ry="1.2"/><ellipse cx="410" cy="410" rx="2" ry="1.2"/><ellipse cx="346" cy="440" rx="2" ry="1.2"/><ellipse cx="408" cy="448" rx="2" ry="1.2"/><ellipse cx="404" cy="425" rx="2" ry="1.2"/></g>
</g>
<path d="M335,468 L335,392 C335,375 360,368 377,368 C395,368 420,375 420,392 L420,468" fill="none" stroke="#6ac060" stroke-width="2"/>
<line x1="408" y1="357" x2="397" y2="380" stroke="#222" stroke-width="0.8"/>
<line x1="430" y1="375" x2="397" y2="395" stroke="#222" stroke-width="0.8"/>
<text class="t s" x="395" y="354" textLength="38" lengthAdjust="spacingAndGlyphs">ท่อโฟลเอ็ม</text>
<text class="t s" x="428" y="374" textLength="32" lengthAdjust="spacingAndGlyphs">ท่อไซเล็ม</text>

<!-- STOMATA -->
<g>
<circle cx="517" cy="667" r="41" fill="#8cc63f" stroke="#2a8a3a" stroke-width="3"/>
<path d="M517,626 L517,640 M480,650 L495,655 M554,650 L539,655 M482,690 L497,682 M552,690 L537,682 M517,708 L517,695 M495,630 L502,643 M540,630 L533,643" stroke="#2a8a3a" stroke-width="2.5"/>
<ellipse cx="517" cy="667" rx="23" ry="30" fill="#2a8a3a"/>
<ellipse cx="517" cy="667" rx="19" ry="26" fill="#7fc24a"/>
<path d="M517,643 C524,655 524,680 517,692 C510,680 510,655 517,643 Z" fill="#1e6b2e"/>
<path d="M517,648 C521,658 521,677 517,687 C513,677 513,658 517,648 Z" fill="#fff"/>
<ellipse cx="506" cy="678" rx="3" ry="7" fill="#cfe8f0"/>
<ellipse cx="530" cy="660" rx="3" ry="7" fill="#cfe8f0"/>
<circle cx="503" cy="662" r="2.5" fill="#f06a2a"/><circle cx="530" cy="677" r="2.5" fill="#f06a2a"/>
<g fill="#e8a040" stroke="#c07020" stroke-width="0.5"><circle cx="490" cy="643" r="2.5"/><circle cx="526" cy="632" r="2.5"/><circle cx="547" cy="658" r="2.5"/><circle cx="546" cy="683" r="2.5"/><circle cx="517" cy="702" r="2.5"/><circle cx="485" cy="680" r="2.5"/></g>
</g>
<line x1="516" y1="610" x2="517" y2="660" stroke="#222" stroke-width="0.9"/>
<line x1="450" y1="679" x2="498" y2="677" stroke="#222" stroke-width="0.9"/>
<text class="t s" x="503" y="606" textLength="24" lengthAdjust="spacingAndGlyphs">ปากใบ</text>
<text class="t s" x="420" y="681" textLength="27" lengthAdjust="spacingAndGlyphs">เซลล์คุม</text>

<!-- SEED -->
<g>
<path d="M760,612 C790,605 816,625 816,665 C816,705 800,725 780,723 C760,722 750,705 752,690 C753,680 744,672 745,660 C746,648 752,640 748,628 C746,618 752,613 760,612 Z" fill="#f5a83a" stroke="#fbe2b8" stroke-width="3"/>
<ellipse cx="750" cy="673" rx="4.5" ry="16" fill="#5a2a10"/>
<path d="M750,646 C748,632 760,622 775,626 C788,630 798,645 800,660 C790,650 782,640 775,638 C765,636 758,640 754,648 Z" fill="#1f9a3a"/>
<path d="M770,632 C785,635 795,650 793,668 C788,660 782,648 772,640 Z" fill="#35b04a"/>
</g>
<g stroke="#222" stroke-width="0.9">
<line x1="710" y1="668" x2="752" y2="645"/>
<line x1="778" y1="678" x2="828" y2="678"/>
<line x1="805" y1="697" x2="853" y2="697"/>
</g>
<text class="t s" x="695" y="677" textLength="30" lengthAdjust="spacingAndGlyphs">เอ็มบริโอ</text>
<text class="t s" x="832" y="681" textLength="41" lengthAdjust="spacingAndGlyphs">เอนโดสเปิร์ม</text>
<text class="t s" x="857" y="700" textLength="48" lengthAdjust="spacingAndGlyphs">เปลือกหุ้มเมล็ด</text>
</svg>
</body></html>
